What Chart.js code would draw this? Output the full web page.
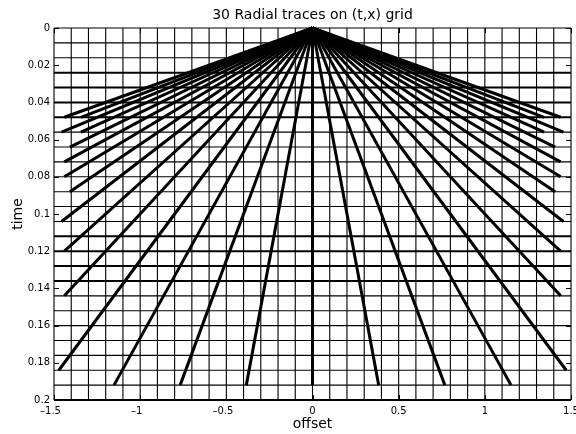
<!DOCTYPE html>
<html>
<head>
<meta charset="utf-8">
<title>Radial traces on (t,x) grid</title>
<script src="https://cdn.jsdelivr.net/npm/chart.js@4/dist/chart.umd.min.js"></script>
<style>
  html, body { margin: 0; padding: 0; background: #ffffff; }
  #wrap { width: 576px; height: 434px; }
  canvas { display: block; }
</style>
</head>
<body>
<div id="wrap"><canvas id="chart" width="576" height="434"></canvas></div>
<script>
// Axis tick values
const offsetTicks = [-1.5, -1, -0.5, 0, 0.5, 1, 1.5];
const timeTicks = [0, 0.02, 0.04, 0.06, 0.08, 0.1, 0.12, 0.14, 0.16, 0.18, 0.2];

// Sampling grid of the (t,x) plane
const offsetGrid = [-1.5, -1.4, -1.3, -1.2, -1.1, -1.0, -0.9, -0.8, -0.7, -0.6, -0.5,
                    -0.4, -0.3, -0.2, -0.1, 0, 0.1, 0.2, 0.3, 0.4, 0.5, 0.6, 0.7, 0.8,
                    0.9, 1.0, 1.1, 1.2, 1.3, 1.4, 1.5];
const timeGrid = [0, 0.008, 0.016, 0.024, 0.032, 0.04, 0.048, 0.056, 0.064, 0.072, 0.08,
                  0.088, 0.096, 0.104, 0.112, 0.12, 0.128, 0.136, 0.144, 0.152, 0.16,
                  0.168, 0.176, 0.184, 0.192, 0.2];

// Radial traces: each one runs from the origin to its last sample inside the grid
const traceEndOffset = [-1.44, -1.344, -1.456, -1.344, -1.408, -1.44, -1.44, -1.408,
                        -1.456, -1.44, -1.44, -1.472, -1.152, -0.768, -0.384, 0,
                        0.384, 0.768, 1.152, 1.472, 1.44, 1.44, 1.456, 1.408, 1.44,
                        1.44, 1.408, 1.344, 1.456, 1.344, 1.44];
const traceEndTime = [0.048, 0.048, 0.056, 0.056, 0.064, 0.072, 0.08, 0.088,
                      0.104, 0.12, 0.144, 0.184, 0.192, 0.192, 0.192, 0.192,
                      0.192, 0.192, 0.192, 0.184, 0.144, 0.12, 0.104, 0.088, 0.08,
                      0.072, 0.064, 0.056, 0.056, 0.048, 0.048];

// ---- styling ----
const INK = '#000000';
const FONT = '"DejaVu Sans", "Liberation Sans", Arial, sans-serif';
const heavyRows = [0.024, 0.032, 0.04, 0.048, 0.112, 0.12, 0.128, 0.136, 0.2];

const datasets = [];

traceEndOffset.forEach((x, i) => {
  datasets.push({
    data: [{ x: 0, y: 0 }, { x: x, y: traceEndTime[i] }],
    borderColor: INK,
    borderWidth: 3,
    order: 0,
    clip: 6
  });
});

const tFirst = timeGrid[0], tLast = timeGrid[timeGrid.length - 1];
const xFirst = offsetGrid[0], xLast = offsetGrid[offsetGrid.length - 1];

offsetGrid.forEach(x => {
  datasets.push({
    data: [{ x: x, y: tFirst }, { x: x, y: tLast }],
    borderColor: INK,
    borderWidth: 1.1,
    order: 1,
    clip: 6
  });
});

timeGrid.forEach(t => {
  const heavy = heavyRows.some(h => Math.abs(h - t) < 1e-9);
  datasets.push({
    data: [{ x: xFirst, y: t }, { x: xLast, y: t }],
    borderColor: INK,
    borderWidth: heavy ? 2 : 1.1,
    order: 1,
    clip: 6
  });
});

// negative labels: en dash, padded on the right so the digits stay centred on the tick
const fmtOffset = v => (v < 0 ? '\u2013' + String(Math.abs(v)) + '\u2002\u2009' : String(v));
const fmtTime = v => String(Number(v.toFixed(3)));

// short inward tick marks along the frame
const innerTicks = {
  id: 'innerTicks',
  afterDatasetsDraw(chart) {
    const { ctx, chartArea: a, scales } = chart;
    ctx.save();
    ctx.strokeStyle = INK;
    ctx.lineWidth = 1;
    ctx.beginPath();
    scales.y.ticks.forEach(tk => {
      const py = Math.round(scales.y.getPixelForValue(tk.value)) + 0.5;
      ctx.moveTo(a.left, py); ctx.lineTo(a.left + 5, py);
      ctx.moveTo(a.right - 5, py); ctx.lineTo(a.right, py);
    });
    scales.x.ticks.forEach(tk => {
      const px = Math.round(scales.x.getPixelForValue(tk.value)) + 0.5;
      ctx.moveTo(px, a.bottom); ctx.lineTo(px, a.bottom - 5);
      ctx.moveTo(px, a.top); ctx.lineTo(px, a.top + 5);
    });
    ctx.stroke();
    ctx.restore();
  }
};

new Chart(document.getElementById('chart'), {
  type: 'line',
  data: { datasets },
  plugins: [innerTicks],
  options: {
    responsive: false,
    animation: false,
    devicePixelRatio: 1,
    layout: { padding: { left: 0, right: 5, top: 0, bottom: 0 } },
    elements: {
      point: { radius: 0, hoverRadius: 0 },
      line: { tension: 0, fill: false, borderCapStyle: 'butt' }
    },
    plugins: {
      legend: { display: false },
      tooltip: { enabled: false },
      title: {
        display: true,
        fullSize: false,
        text: '30 Radial traces on (t,x) grid',
        color: INK,
        font: { family: FONT, size: 14, weight: 'normal', lineHeight: 1.2 },
        padding: { top: 7, bottom: 4.2 }
      }
    },
    scales: {
      x: {
        type: 'linear',
        min: -1.5,
        max: 1.5,
        afterBuildTicks: s => { s.ticks = offsetTicks.map(v => ({ value: v })); },
        afterFit: s => { s.height = 34; s.paddingLeft = 0; s.paddingRight = 0; },
        grid: { display: false, drawTicks: false },
        border: { display: false },
        ticks: {
          autoSkip: false, maxRotation: 0, minRotation: 0,
          padding: 5,
          color: INK,
          font: { family: FONT, size: 10 },
          callback: v => fmtOffset(v)
        },
        title: {
          display: true,
          text: 'offset',
          color: INK,
          font: { family: FONT, size: 14, lineHeight: 1.2 },
          padding: { top: 0, bottom: 1 }
        }
      },
      y: {
        type: 'linear',
        reverse: true,
        min: 0,
        max: 0.2,
        afterBuildTicks: s => { s.ticks = timeTicks.map(v => ({ value: v })); },
        afterFit: s => { s.width = 54; s.paddingTop = 0; s.paddingBottom = 0; },
        grid: { display: false, drawTicks: false },
        border: { display: false },
        ticks: {
          autoSkip: false,
          padding: 4,
          color: INK,
          font: { family: FONT, size: 10 },
          callback: v => fmtTime(v)
        },
        title: {
          display: true,
          text: 'time',
          color: INK,
          font: { family: FONT, size: 14, lineHeight: 1.2 },
          padding: { top: 10, bottom: 0 }
        }
      }
    }
  }
});
</script>
</body>
</html>
